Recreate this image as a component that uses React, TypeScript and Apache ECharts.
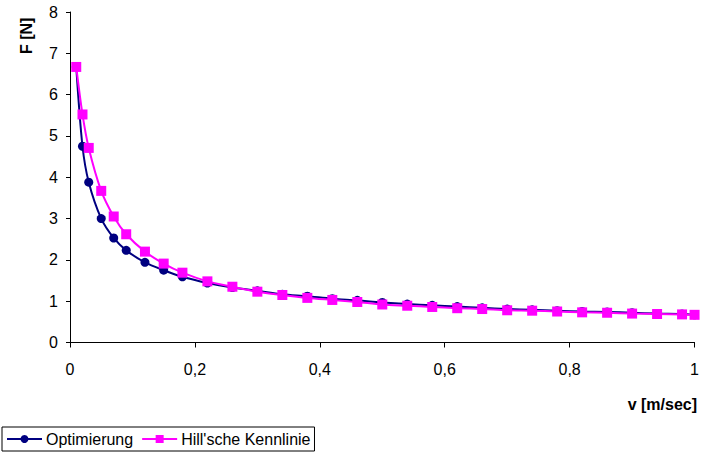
import React, { useEffect, useRef } from "react";
import * as echarts from "echarts";

const vValues = [0.01, 0.02, 0.03, 0.05, 0.07, 0.09, 0.12, 0.15, 0.18, 0.22, 0.26, 0.30, 0.34, 0.38, 0.42, 0.46, 0.50, 0.54, 0.58, 0.62, 0.66, 0.70, 0.74, 0.78, 0.82, 0.86, 0.90, 0.94, 0.98, 1.00];
const optimierung = [6.67, 4.75, 3.88, 3.0, 2.53, 2.23, 1.94, 1.75, 1.59, 1.44, 1.33, 1.25, 1.17, 1.12, 1.06, 1.02, 0.97, 0.93, 0.9, 0.87, 0.84, 0.81, 0.79, 0.77, 0.75, 0.74, 0.72, 0.7, 0.69, 0.67];
const hill = [6.67, 5.52, 4.71, 3.67, 3.05, 2.62, 2.2, 1.91, 1.69, 1.48, 1.35, 1.23, 1.15, 1.08, 1.03, 0.98, 0.92, 0.89, 0.86, 0.83, 0.81, 0.78, 0.77, 0.75, 0.73, 0.72, 0.7, 0.69, 0.68, 0.67];
const seriesNames = ["Optimierung", "Hill'sche Kennlinie"];
const xTitle = "v [m/sec]";
const yTitle = "F [N]";

const FONT = "'Liberation Sans', Arial, sans-serif";

export default function App() {
  const ref = useRef<HTMLDivElement>(null);
  useEffect(() => {
    document.body.style.margin = "0";
    const chart = echarts.init(ref.current!, null, { renderer: "svg" });
    const pair = (ys: number[]) => vValues.map((v, i) => [v, ys[i]]);
    chart.setOption({
      animation: false,
      backgroundColor: "#fff",
      textStyle: { fontFamily: FONT },
      grid: { left: 70, right: 4, top: 12, bottom: 111.5, containLabel: false },
      xAxis: {
        type: "value",
        min: 0,
        max: 1,
        interval: 0.2,
        splitLine: { show: false },
        axisLine: { lineStyle: { color: "#000", width: 1 } },
        axisTick: { show: true, length: 5, lineStyle: { color: "#000" } },
        axisLabel: {
          color: "#000",
          fontSize: 16,
          fontFamily: FONT,
          margin: 19,
          formatter: (v: number) => String(Math.round(v * 10) / 10).replace(".", ","),
        },
      },
      yAxis: {
        type: "value",
        min: 0,
        max: 8,
        interval: 1,
        splitLine: { show: false },
        axisLine: { show: true, lineStyle: { color: "#000", width: 1 } },
        axisTick: { show: true, length: 4, lineStyle: { color: "#000" } },
        axisLabel: { color: "#000", fontSize: 16, fontFamily: FONT, margin: 12 },
      },
      legend: {
        left: 2,
        top: 427,
        orient: "horizontal",
        borderColor: "#000",
        borderWidth: 1,
        borderRadius: 0,
        padding: [4, 4, 4, 4],
        itemGap: 8,
        itemWidth: 35,
        itemHeight: 10,
        textStyle: { color: "#000", fontSize: 16, fontFamily: FONT, padding: [0, 0, 0, -1] },
        data: seriesNames,
      },
      graphic: [
        {
          type: "text",
          right: 5,
          top: 396,
          style: { text: xTitle, font: `bold 16px ${FONT}`, fill: "#000" },
        },
        {
          type: "text",
          x: 18,
          y: 54,
          rotation: Math.PI / 2,
          style: { text: yTitle, font: `bold 16px ${FONT}`, fill: "#000" },
        },
      ],
      series: [
        {
          name: seriesNames[0],
          type: "line",
          data: pair(optimierung),
          smooth: 0.3,
          symbol: "circle",
          symbolSize: 9,
          itemStyle: { color: "#000080" },
          lineStyle: { color: "#000080", width: 2 },
          z: 2,
        },
        {
          name: seriesNames[1],
          type: "line",
          data: pair(hill),
          smooth: 0.3,
          symbol: "rect",
          symbolSize: 10,
          itemStyle: { color: "#ff00ff" },
          lineStyle: { color: "#ff00ff", width: 2 },
          z: 3,
        },
      ],
    });
    return () => chart.dispose();
  }, []);
  return <div ref={ref} style={{ position: "fixed", left: 0, top: 0, width: 702, height: 454 }} />;
}
